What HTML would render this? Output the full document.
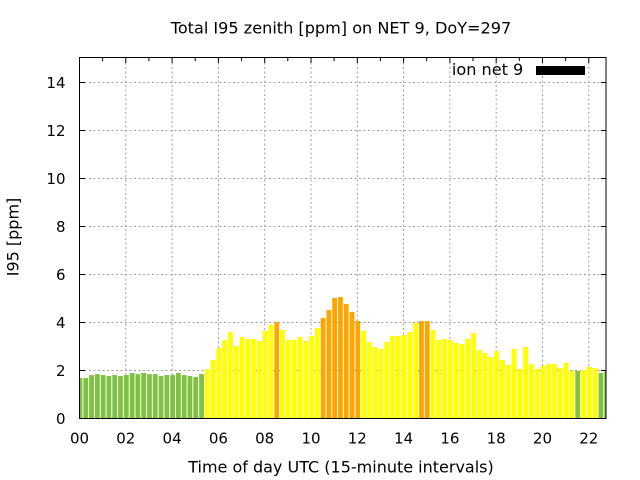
<!DOCTYPE html>
<html>
<head>
<meta charset="utf-8">
<style>
html,body{margin:0;padding:0;background:#fff;}
svg{display:block;}
text{font-family:"DejaVu Sans","Liberation Sans",sans-serif;fill:#000;}
</style>
</head>
<body>
<svg width="640" height="480" viewBox="0 0 640 480" xmlns="http://www.w3.org/2000/svg">
<rect x="0" y="0" width="640" height="480" fill="#fff"/>
<defs>
<clipPath id="pc"><rect x="80" y="57" width="526" height="362"/></clipPath>
</defs>
<g stroke="#a0a0a0" stroke-width="1" stroke-dasharray="2,2.5" fill="none">
<line x1="80" y1="370.5" x2="606" y2="370.5"/>
<line x1="80" y1="322.5" x2="606" y2="322.5"/>
<line x1="80" y1="274.5" x2="606" y2="274.5"/>
<line x1="80" y1="226.5" x2="606" y2="226.5"/>
<line x1="80" y1="178.5" x2="606" y2="178.5"/>
<line x1="80" y1="130.5" x2="606" y2="130.5"/>
<line x1="80" y1="82.5" x2="606" y2="82.5"/>
<line x1="125.8" y1="58" x2="125.8" y2="418"/>
<line x1="172.1" y1="58" x2="172.1" y2="418"/>
<line x1="218.4" y1="58" x2="218.4" y2="418"/>
<line x1="264.7" y1="58" x2="264.7" y2="418"/>
<line x1="311" y1="58" x2="311" y2="418"/>
<line x1="357.3" y1="58" x2="357.3" y2="418"/>
<line x1="403.6" y1="58" x2="403.6" y2="418"/>
<line x1="449.9" y1="58" x2="449.9" y2="418"/>
<line x1="496.2" y1="58" x2="496.2" y2="418"/>
<line x1="542.5" y1="58" x2="542.5" y2="418"/>
<line x1="588.8" y1="58" x2="588.8" y2="418"/>
</g>
<g clip-path="url(#pc)">
<g transform="translate(80,418.5) scale(5.7875,-24)" stroke="none">
<g fill="#7fc241">
<rect x="-0.415" y="0" width="0.83" height="1.69"/>
<rect x="0.585" y="0" width="0.83" height="1.69"/>
<rect x="1.585" y="0" width="0.83" height="1.81"/>
<rect x="2.585" y="0" width="0.83" height="1.85"/>
<rect x="3.585" y="0" width="0.83" height="1.81"/>
<rect x="4.585" y="0" width="0.83" height="1.77"/>
<rect x="5.585" y="0" width="0.83" height="1.81"/>
<rect x="6.585" y="0" width="0.83" height="1.77"/>
<rect x="7.585" y="0" width="0.83" height="1.81"/>
<rect x="8.585" y="0" width="0.83" height="1.90"/>
<rect x="9.585" y="0" width="0.83" height="1.85"/>
<rect x="10.585" y="0" width="0.83" height="1.90"/>
<rect x="11.585" y="0" width="0.83" height="1.85"/>
<rect x="12.585" y="0" width="0.83" height="1.85"/>
<rect x="13.585" y="0" width="0.83" height="1.77"/>
<rect x="14.585" y="0" width="0.83" height="1.81"/>
<rect x="15.585" y="0" width="0.83" height="1.81"/>
<rect x="16.585" y="0" width="0.83" height="1.90"/>
<rect x="17.585" y="0" width="0.83" height="1.81"/>
<rect x="18.585" y="0" width="0.83" height="1.77"/>
<rect x="19.585" y="0" width="0.83" height="1.73"/>
<rect x="20.585" y="0" width="0.83" height="1.85"/>
<rect x="85.585" y="0" width="0.83" height="1.98"/>
<rect x="89.585" y="0" width="0.83" height="1.90"/>
<rect x="90.585" y="0" width="0.83" height="1.98"/>
</g>
<g fill="#ffff00">
<rect x="21.585" y="0" width="0.83" height="2.05"/>
<rect x="22.585" y="0" width="0.83" height="2.44"/>
<rect x="23.585" y="0" width="0.83" height="2.94"/>
<rect x="24.585" y="0" width="0.83" height="3.27"/>
<rect x="25.585" y="0" width="0.83" height="3.60"/>
<rect x="26.585" y="0" width="0.83" height="3.02"/>
<rect x="27.585" y="0" width="0.83" height="3.40"/>
<rect x="28.585" y="0" width="0.83" height="3.31"/>
<rect x="29.585" y="0" width="0.83" height="3.31"/>
<rect x="30.585" y="0" width="0.83" height="3.23"/>
<rect x="31.585" y="0" width="0.83" height="3.65"/>
<rect x="32.585" y="0" width="0.83" height="3.90"/>
<rect x="34.585" y="0" width="0.83" height="3.69"/>
<rect x="35.585" y="0" width="0.83" height="3.27"/>
<rect x="36.585" y="0" width="0.83" height="3.27"/>
<rect x="37.585" y="0" width="0.83" height="3.40"/>
<rect x="38.585" y="0" width="0.83" height="3.23"/>
<rect x="39.585" y="0" width="0.83" height="3.44"/>
<rect x="40.585" y="0" width="0.83" height="3.77"/>
<rect x="48.585" y="0" width="0.83" height="3.65"/>
<rect x="49.585" y="0" width="0.83" height="3.19"/>
<rect x="50.585" y="0" width="0.83" height="2.98"/>
<rect x="51.585" y="0" width="0.83" height="2.90"/>
<rect x="52.585" y="0" width="0.83" height="3.19"/>
<rect x="53.585" y="0" width="0.83" height="3.44"/>
<rect x="54.585" y="0" width="0.83" height="3.44"/>
<rect x="55.585" y="0" width="0.83" height="3.48"/>
<rect x="56.585" y="0" width="0.83" height="3.60"/>
<rect x="57.585" y="0" width="0.83" height="3.98"/>
<rect x="60.585" y="0" width="0.83" height="3.69"/>
<rect x="61.585" y="0" width="0.83" height="3.27"/>
<rect x="62.585" y="0" width="0.83" height="3.31"/>
<rect x="63.585" y="0" width="0.83" height="3.27"/>
<rect x="64.585" y="0" width="0.83" height="3.15"/>
<rect x="65.585" y="0" width="0.83" height="3.10"/>
<rect x="66.585" y="0" width="0.83" height="3.31"/>
<rect x="67.585" y="0" width="0.83" height="3.56"/>
<rect x="68.585" y="0" width="0.83" height="2.85"/>
<rect x="69.585" y="0" width="0.83" height="2.73"/>
<rect x="70.585" y="0" width="0.83" height="2.56"/>
<rect x="71.585" y="0" width="0.83" height="2.81"/>
<rect x="72.585" y="0" width="0.83" height="2.44"/>
<rect x="73.585" y="0" width="0.83" height="2.23"/>
<rect x="74.585" y="0" width="0.83" height="2.90"/>
<rect x="75.585" y="0" width="0.83" height="2.06"/>
<rect x="76.585" y="0" width="0.83" height="2.98"/>
<rect x="77.585" y="0" width="0.83" height="2.27"/>
<rect x="78.585" y="0" width="0.83" height="2.06"/>
<rect x="79.585" y="0" width="0.83" height="2.19"/>
<rect x="80.585" y="0" width="0.83" height="2.27"/>
<rect x="81.585" y="0" width="0.83" height="2.27"/>
<rect x="82.585" y="0" width="0.83" height="2.10"/>
<rect x="83.585" y="0" width="0.83" height="2.31"/>
<rect x="84.585" y="0" width="0.83" height="1.98"/>
<rect x="86.585" y="0" width="0.83" height="2.02"/>
<rect x="87.585" y="0" width="0.83" height="2.15"/>
<rect x="88.585" y="0" width="0.83" height="2.10"/>
</g>
<g fill="#ffa500">
<rect x="33.585" y="0" width="0.83" height="4.02"/>
<rect x="41.585" y="0" width="0.83" height="4.19"/>
<rect x="42.585" y="0" width="0.83" height="4.52"/>
<rect x="43.585" y="0" width="0.83" height="5.02"/>
<rect x="44.585" y="0" width="0.83" height="5.06"/>
<rect x="45.585" y="0" width="0.83" height="4.77"/>
<rect x="46.585" y="0" width="0.83" height="4.44"/>
<rect x="47.585" y="0" width="0.83" height="4.06"/>
<rect x="58.585" y="0" width="0.83" height="4.06"/>
<rect x="59.585" y="0" width="0.83" height="4.06"/>
</g>
</g>
</g>
<rect x="79.5" y="57.5" width="526.5" height="361" fill="none" stroke="#000" stroke-width="1"/>
<g stroke="#000" stroke-width="1">
<line x1="80" y1="370.5" x2="85" y2="370.5"/><line x1="606" y1="370.5" x2="601" y2="370.5"/>
<line x1="80" y1="322.5" x2="85" y2="322.5"/><line x1="606" y1="322.5" x2="601" y2="322.5"/>
<line x1="80" y1="274.5" x2="85" y2="274.5"/><line x1="606" y1="274.5" x2="601" y2="274.5"/>
<line x1="80" y1="226.5" x2="85" y2="226.5"/><line x1="606" y1="226.5" x2="601" y2="226.5"/>
<line x1="80" y1="178.5" x2="85" y2="178.5"/><line x1="606" y1="178.5" x2="601" y2="178.5"/>
<line x1="80" y1="130.5" x2="85" y2="130.5"/><line x1="606" y1="130.5" x2="601" y2="130.5"/>
<line x1="80" y1="82.5" x2="85" y2="82.5"/><line x1="606" y1="82.5" x2="601" y2="82.5"/>
<line x1="125.8" y1="58" x2="125.8" y2="63"/>
<line x1="172.1" y1="58" x2="172.1" y2="63"/>
<line x1="218.4" y1="58" x2="218.4" y2="63"/>
<line x1="264.7" y1="58" x2="264.7" y2="63"/>
<line x1="311" y1="58" x2="311" y2="63"/>
<line x1="357.3" y1="58" x2="357.3" y2="63"/>
<line x1="403.6" y1="58" x2="403.6" y2="63"/>
<line x1="449.9" y1="58" x2="449.9" y2="63"/>
<line x1="496.2" y1="58" x2="496.2" y2="63"/>
<line x1="542.5" y1="58" x2="542.5" y2="63"/>
<line x1="588.8" y1="58" x2="588.8" y2="63"/>
<line x1="102.6" y1="58" x2="102.6" y2="61"/>
<line x1="148.9" y1="58" x2="148.9" y2="61"/>
<line x1="195.2" y1="58" x2="195.2" y2="61"/>
<line x1="241.5" y1="58" x2="241.5" y2="61"/>
<line x1="287.8" y1="58" x2="287.8" y2="61"/>
<line x1="334.1" y1="58" x2="334.1" y2="61"/>
<line x1="380.4" y1="58" x2="380.4" y2="61"/>
<line x1="426.7" y1="58" x2="426.7" y2="61"/>
<line x1="473" y1="58" x2="473" y2="61"/>
<line x1="519.3" y1="58" x2="519.3" y2="61"/>
<line x1="565.6" y1="58" x2="565.6" y2="61"/>
</g>
<g font-size="15" text-anchor="end">
<text x="65.5" y="424">0</text>
<text x="65.5" y="376">2</text>
<text x="65.5" y="328">4</text>
<text x="65.5" y="280">6</text>
<text x="65.5" y="232">8</text>
<text x="65.5" y="184">10</text>
<text x="65.5" y="136">12</text>
<text x="65.5" y="88">14</text>
</g>
<g font-size="15" text-anchor="middle">
<text x="79.5" y="443.5">00</text>
<text x="125.8" y="443.5">02</text>
<text x="172.1" y="443.5">04</text>
<text x="218.4" y="443.5">06</text>
<text x="264.7" y="443.5">08</text>
<text x="311" y="443.5">10</text>
<text x="357.3" y="443.5">12</text>
<text x="403.6" y="443.5">14</text>
<text x="449.9" y="443.5">16</text>
<text x="496.2" y="443.5">18</text>
<text x="542.5" y="443.5">20</text>
<text x="588.8" y="443.5">22</text>
</g>
<text x="341" y="33.3" font-size="16.1" text-anchor="middle">Total I95 zenith [ppm] on NET 9, DoY=297</text>
<text x="341" y="472.7" font-size="16" text-anchor="middle">Time of day UTC (15-minute intervals)</text>
<text transform="translate(18.5,237) rotate(-90)" font-size="16" text-anchor="middle">I95 [ppm]</text>
<text x="523.3" y="75" font-size="16.1" text-anchor="end">ion net 9</text>
<rect x="536" y="66" width="49" height="9" fill="#000"/>
</svg>
</body>
</html>
